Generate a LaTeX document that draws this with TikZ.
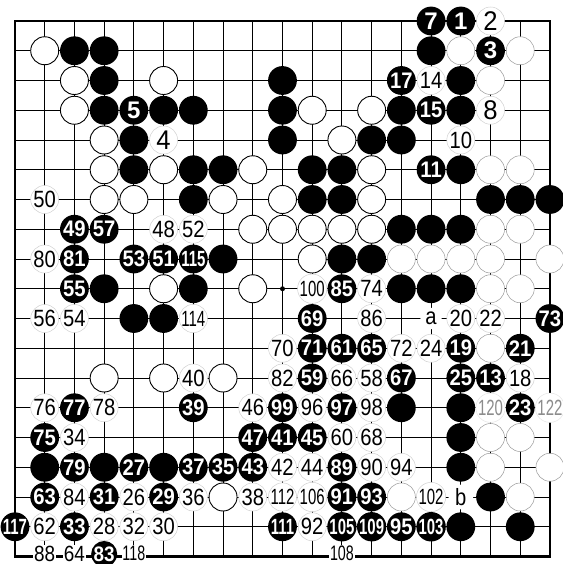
\documentclass[tikz,border=0pt]{standalone}
\usepackage{fontspec}
\setmainfont{Liberation Sans}
\newfontfamily\fWa[FakeStretch=0.95]{Liberation Sans}
\newfontfamily\fWb[FakeStretch=0.86]{Liberation Sans}
\newfontfamily\fWc[FakeStretch=0.68]{Liberation Sans}
\newfontfamily\fBa[FakeStretch=1.0]{Liberation Sans}
\newfontfamily\fBb[FakeStretch=0.90]{Liberation Sans}
\newfontfamily\fBc[FakeStretch=0.68]{Liberation Sans}
\tikzset{
  gl/.style={line width=0.9pt},
  edgeline/.style={line width=2.8pt},
  bst/.style={circle, fill=black, inner sep=0pt, minimum size=28.8pt},
  wst/.style={circle, fill=white, draw=black, line width=0.9pt, inner sep=0pt, minimum size=28pt},
  gst/.style={circle, fill=white, draw=black!40, line width=0.5pt, inner sep=0pt, minimum size=28pt},
  bn/.style={bst, text=white},
  bn1/.style={bn, font=\fBa\bfseries\fontsize{24}{24}\selectfont},
  bn2/.style={bn, font=\fBb\bfseries\fontsize{22.5}{22.5}\selectfont},
  bn3/.style={bn, font=\fBc\bfseries\fontsize{22}{22}\selectfont},
  wn/.style={circle, fill=white, draw=black!18, line width=0.5pt, inner sep=0pt, minimum size=28pt},
  wn1/.style={wn, font=\fWa\fontsize{27}{27}\selectfont},
  wn2/.style={wn, font=\fWb\fontsize{23.5}{23.5}\selectfont},
  wn3/.style={wn, font=\fWc\fontsize{22}{22}\selectfont},
  wnb/.style={rectangle, fill=white, inner sep=0.8pt, yshift=3pt},
  mk/.style={circle, fill=white, inner sep=1.5pt, font=\fWb\fontsize{23.5}{23.5}\selectfont},
  hoshi/.style={circle, fill=black, inner sep=0pt, minimum size=5pt}
}
\begin{document}
\begin{tikzpicture}[x=29.72pt, y=-29.75pt]
\useasboundingbox (14.72pt,-8.75pt) rectangle (576.72pt,-572.75pt);
\fill[white] (14.72pt,-8.75pt) rectangle (576.72pt,-572.75pt);
% grid
\foreach \i in {2,...,18} {
  \draw[gl] (\i,1) -- (\i,19);
  \draw[gl] (1,\i) -- (19,\i);
}
\draw[edgeline] (1,1) rectangle (19,19);
\node[hoshi] (hoshi) at (10,10) {};
% black stones
\foreach \c/\r in {3/2,4/2,15/2, 4/3,10/3,16/3, 4/4,6/4,7/4,10/4,14/4,16/4,
  5/5,10/5,13/5,14/5, 5/6,7/6,8/6,11/6,12/6,16/6, 7/7,11/7,12/7,17/7,18/7,19/7,
  14/8,15/8,16/8, 8/9,12/9,13/9, 4/10,7/10,14/10,15/10,16/10, 5/11,6/11,
  14/14,16/14, 16/15, 2/16,4/16,6/16,16/16, 17/17, 16/18,18/18}
  \node[bst] (b\c-\r) at (\c,\r) {};
% white stones
\foreach \c/\r in {2/2, 3/3,6/3, 3/4,11/4,13/4, 4/5,12/5, 4/6,6/6,9/6,13/6,
  4/7,5/7,8/7,10/7,13/7, 9/8,10/8,11/8,12/8,13/8, 11/9, 6/10,9/10,
  4/13,6/13,8/13, 8/17}
  \node[wst] (w\c-\r) at (\c,\r) {};
% faded white stones
\foreach \c/\r in {16/2,18/2, 17/3, 17/6,18/6, 17/8,18/8, 14/9,15/9,16/9,17/9,19/9,
  17/10,18/10, 17/12, 17/15,18/15, 17/16,19/16, 14/17,18/17}
  \node[gst] (g\c-\r) at (\c,\r) {};
% black numbered
\foreach \c/\r/\t in {15/1/7, 16/1/1, 17/2/3, 5/4/5}
  \node[bn1] (n\t) at (\c,\r) {\t};
\foreach \c/\r/\t in {14/3/17, 15/4/15, 15/6/11, 3/8/49, 4/8/57, 3/9/81, 5/9/53, 6/9/51,
  3/10/55, 12/10/85, 11/11/69, 19/11/73, 11/12/71, 12/12/61, 13/12/65, 16/12/19, 18/12/21,
  11/13/59, 14/13/67, 16/13/25, 17/13/13, 3/14/77, 7/14/39, 10/14/99, 12/14/97, 18/14/23,
  2/15/75, 9/15/47, 10/15/41, 11/15/45, 3/16/79, 5/16/27, 7/16/37, 8/16/35, 9/16/43,
  12/16/89, 2/17/63, 4/17/31, 6/17/29, 12/17/91, 13/17/93, 3/18/33, 14/18/95}
  \node[bn2] (n\t) at (\c,\r) {\t};
\node[bst, minimum size=26pt, yshift=2.5pt] (s83) at (4,19) {};
\node[text=white, font=\fBb\bfseries\fontsize{21}{21}\selectfont, inner sep=0pt] (n83) at (s83) {83};
\foreach \c/\r/\t in {7/9/115, 1/18/117, 10/18/111, 12/18/105, 13/18/109, 15/18/103}
  \node[bn3] (n\t) at (\c,\r) {\t};
% white numbered
\foreach \c/\r/\t in {17/1/2, 17/4/8, 6/5/4}
  \node[wn1] (n\t) at (\c,\r) {\t};
\foreach \c/\r/\t in {15/3/14, 16/5/10, 2/7/50, 6/8/48, 7/8/52, 2/9/80, 13/10/74,
  2/11/56, 3/11/54, 13/11/86, 16/11/20, 17/11/22, 10/12/70, 14/12/72, 15/12/24,
  7/13/40, 10/13/82, 12/13/66, 13/13/58, 18/13/18, 2/14/76, 4/14/78, 9/14/46,
  11/14/96, 13/14/98, 3/15/34, 12/15/60, 13/15/68, 10/16/42, 11/16/44, 13/16/90,
  14/16/94, 3/17/84, 5/17/26, 7/17/36, 9/17/38, 2/18/62, 4/18/28, 5/18/32, 6/18/30,
  11/18/92}
  \node[wn2] (n\t) at (\c,\r) {\t};
\foreach \c/\r/\t in {2/19/88, 3/19/64}
  \node[wnb, font=\fWb\fontsize{22}{22}\selectfont] (n\t) at (\c,\r) {\t};
\foreach \c/\r/\t in {11/10/100, 7/11/114, 10/17/112, 11/17/106, 15/17/102}
  \node[wn3] (n\t) at (\c,\r) {\t};
\foreach \c/\r/\t in {5/19/118, 12/19/108}
  \node[wnb, font=\fWc\fontsize{21}{21}\selectfont] (n\t) at (\c,\r) {\t};
\node[wn3, text=black!45, draw=black!10] (n120) at (17,14) {120};
\node[wn3, text=black!45, draw=black!10] (n122) at (19,14) {122};
% letter marks
\node[mk] (ma) at (15,11) {a};
\node[mk] (mb) at (16,17) {b};
\end{tikzpicture}
\end{document}
